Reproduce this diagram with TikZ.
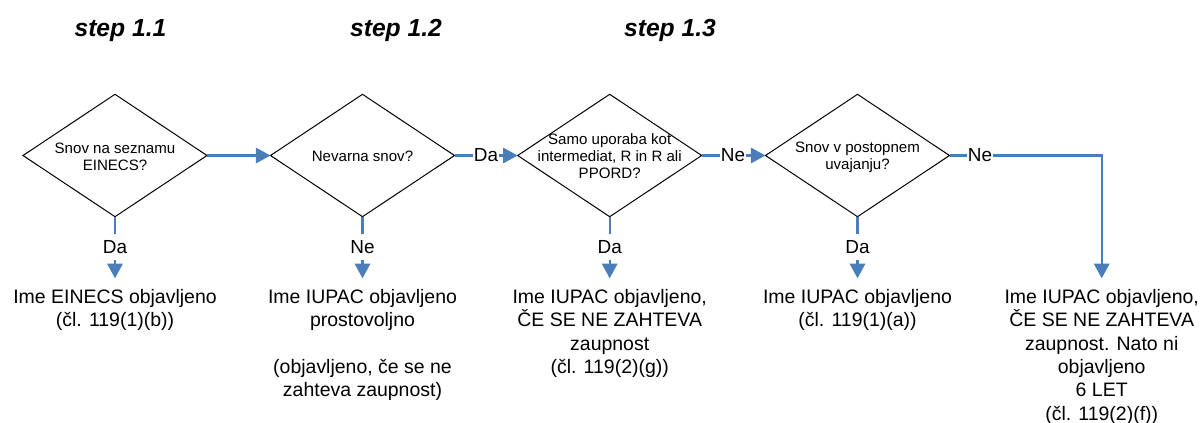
\documentclass[tikz,border=0pt]{standalone}
\usepackage{fontspec}
\setmainfont{Liberation Sans}
\usetikzlibrary{shapes.geometric,arrows.meta}
\definecolor{flowblue}{HTML}{4A7EBB}
\begin{document}
\begin{tikzpicture}[x=0.75pt,y=-0.75pt,
  decision/.style={draw=black, line width=0.75pt, shape=diamond,
    minimum width=138pt, minimum height=91.8pt, inner sep=0pt, outer sep=0pt},
  question/.style={align=center, font=\fontsize{11.3pt}{12.8pt}\selectfont, inner sep=0pt},
  answer/.style={font=\fontsize{14.2pt}{17pt}\selectfont, inner xsep=1pt, inner ysep=5pt, outer sep=0pt},
  outcome/.style={align=center, anchor=north, font=\fontsize{14.6pt}{17.5pt}\selectfont,
    inner xsep=0pt, inner ysep=8.25pt, outer sep=0pt},
  steptitle/.style={anchor=base, font=\fontsize{18.5pt}{22pt}\selectfont\bfseries\itshape},
  conn/.style={draw=flowblue, line width=1.6pt},
  arr/.style={-{Triangle[length=11pt,width=11.5pt]}}
]
\useasboundingbox (0,0) rectangle (1202,422);

% step headings
\node[steptitle] (s1) at (120.5,36) {step 1.1};
\node[steptitle] (s2) at (396,36) {step 1.2};
\node[steptitle] (s3) at (670,36) {step 1.3};

% decisions
\node[decision] (d1) at (115,155.5) {};
\node[decision] (d2) at (362.5,155.5) {};
\node[decision] (d3) at (609.7,155.5) {};
\node[decision] (d4) at (857.5,155.5) {};

\node[question] (q1) at (115,157) {Snov na seznamu\\EINECS?};
\node[question] (q2) at (362.5,156) {Nevarna snov?};
\node[question] (q3) at (609.7,156) {Samo uporaba kot\\intermediat, R in R ali\\PPORD?};
\node[question] (q4) at (857.5,157) {Snov v postopnem\\uvajanju?};

% answers on the connectors
\node[answer] (a1) at (115,247) {Da};
\node[answer] (a2) at (362.5,247) {Ne};
\node[answer] (a3) at (609.7,247) {Da};
\node[answer] (a4) at (857.5,247) {Da};
\node[answer] (h2) at (486,155.5) {Da};
\node[answer] (h3) at (733,155.5) {Ne};
\node[answer] (h4) at (980,155.5) {Ne};

% outcomes
\node[outcome] (r1) at (115,278.3) {Ime EINECS objavljeno\\(čl. 119(1)(b))};
\node[outcome] (r2) at (362.5,278.3) {Ime IUPAC objavljeno\\prostovoljno\\[17.5pt](objavljeno, če se ne\\zahteva zaupnost)};
\node[outcome] (r3) at (609.7,278.3) {Ime IUPAC objavljeno,\\ČE SE NE ZAHTEVA\\zaupnost\\(čl. 119(2)(g))};
\node[outcome] (r4) at (857.5,278.3) {Ime IUPAC objavljeno\\(čl. 119(1)(a))};
\node[outcome] (r5) at (1101.7,278.3) {Ime IUPAC objavljeno,\\ČE SE NE ZAHTEVA\\zaupnost. Nato ni\\objavljeno\\6 LET\\(čl. 119(2)(f))};

% horizontal flow
\draw[conn,arr] (d1) -- (d2);
\draw[conn] (d2) -- (h2);
\draw[conn,arr] (h2) -- (d3);
\draw[conn] (d3) -- (h3);
\draw[conn,arr] (h3) -- (d4);
\draw[conn] (d4) -- (h4);
\draw[conn,arr] (h4) -| (r5);

% downward flow
\draw[conn] (d1) -- (a1);
\draw[conn,arr] (a1) -- (r1);
\draw[conn] (d2) -- (a2);
\draw[conn,arr] (a2) -- (r2);
\draw[conn] (d3) -- (a3);
\draw[conn,arr] (a3) -- (r3);
\draw[conn] (d4) -- (a4);
\draw[conn,arr] (a4) -- (r4);
\end{tikzpicture}
\end{document}
